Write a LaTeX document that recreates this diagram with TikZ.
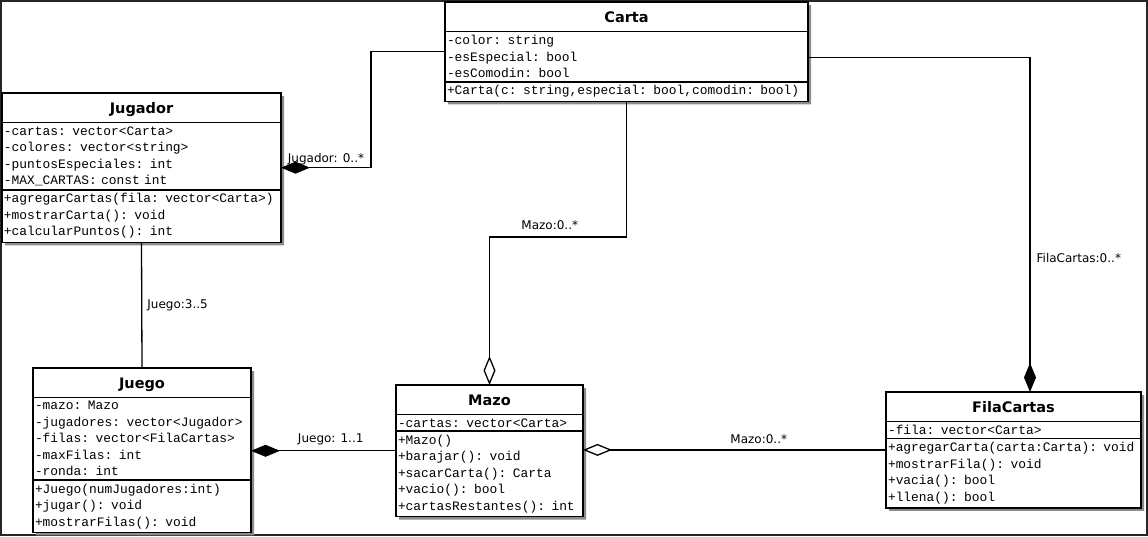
\documentclass[tikz,border=0pt]{standalone}
\usepackage{fontspec}
\setmainfont{DejaVu Sans}
\newfontfamily\monofont{Liberation Mono}
\usepackage{tikz}
\usetikzlibrary{shapes.multipart, arrows.meta, shadows, calc}

\newcommand{\classname}[1]{\normalfont\fontsize{14.5}{17}\selectfont\bfseries\hspace*{\fill}#1\hspace*{\fill}\rule[-5pt]{0pt}{22pt}}

\begin{document}
\begin{tikzpicture}[
    x=1pt, y=-1pt,
    umlclass/.style={rectangle split, rectangle split parts=3, draw=black, line width=1.6pt, fill=white,
      align=left, inner xsep=2pt, inner ysep=3pt, outer sep=0pt, anchor=north west,
      font=\monofont\fontsize{12.9}{16.5}\selectfont,
      drop shadow={shadow xshift=3pt, shadow yshift=-3pt, fill=black!45, opacity=1}},
    lbl/.style={font=\fontsize{12}{14}\selectfont, inner sep=2pt},
    assoc/.style={line width=1.3pt, color=black},
    comp/.style={assoc, -{Diamond[length=29pt, width=12pt]}},
    aggr/.style={assoc, -{Diamond[open, length=29pt, width=12pt]}}
]
\useasboundingbox (0,0) rectangle (1148,536);
\draw[black!85, line width=2pt] (1,1) rectangle (1147,535);

% classes
\node[umlclass, text width=359pt] (carta) at (445,2)
  {\classname{Carta}
   \nodepart{second}-color: string\\-esEspecial: bool\\-esComodin: bool
   \nodepart{third}+Carta(c: string,especial: bool,comodin: bool)};

\node[umlclass, text width=275pt] (jugador) at (2,93)
  {\classname{Jugador}
   \nodepart{second}-cartas: vector<Carta>\\-colores: vector<string>\\-puntosEspeciales: int\\-MAX\_CARTAS: const int
   \nodepart{third}+agregarCartas(fila: vector<Carta>)\\+mostrarCarta(): void\\+calcularPuntos(): int};

\node[umlclass, text width=214pt] (juego) at (33,368)
  {\classname{Juego}
   \nodepart{second}-mazo: Mazo\\-jugadores: vector<Jugador>\\-filas: vector<FilaCartas>\\-maxFilas: int\\-ronda: int
   \nodepart{third}+Juego(numJugadores:int)\\+jugar(): void\\+mostrarFilas(): void};

\node[umlclass, text width=183pt] (mazo) at (396,385)
  {\classname{Mazo}
   \nodepart{second}-cartas: vector<Carta>
   \nodepart{third}+Mazo()\\+barajar(): void\\+sacarCarta(): Carta\\+vacio(): bool\\+cartasRestantes(): int};

\node[umlclass, text width=251pt] (filacartas) at (886,392)
  {\classname{FilaCartas}
   \nodepart{second}-fila: vector<Carta>
   \nodepart{third}+agregarCarta(carta:Carta): void\\+mostrarFila(): void\\+vacia(): bool\\+llena(): bool};

% relations
\draw[comp] (carta.west) -| ($(jugador.east)+(90,0)$) -- node[lbl, above] {Jugador: 0..*} (jugador.east);
\draw[aggr] (carta.south) |- node[lbl, pos=0.78, above, yshift=5pt] {Mazo:0..*} ($(mazo.north)+(0,-148)$) -- (mazo.north);
\draw[comp] ([yshift=-6pt]carta.east) -| node[lbl, pos=0.8, right, xshift=4pt] {FilaCartas:0..*} ([xshift=16.5pt]filacartas.north);
\draw[assoc] (jugador.south) -- node[lbl, right, xshift=3pt] {Juego:3..5} (juego.north);
\draw[comp] (mazo.west) -- node[lbl, pos=0.45, above, yshift=3pt] {Juego: 1..1} (mazo.west -| juego.east);
\draw[aggr] (filacartas.west) -- node[lbl, pos=0.42, above, yshift=4pt] {Mazo:0..*} (filacartas.west -| mazo.east);

\end{tikzpicture}
\end{document}
